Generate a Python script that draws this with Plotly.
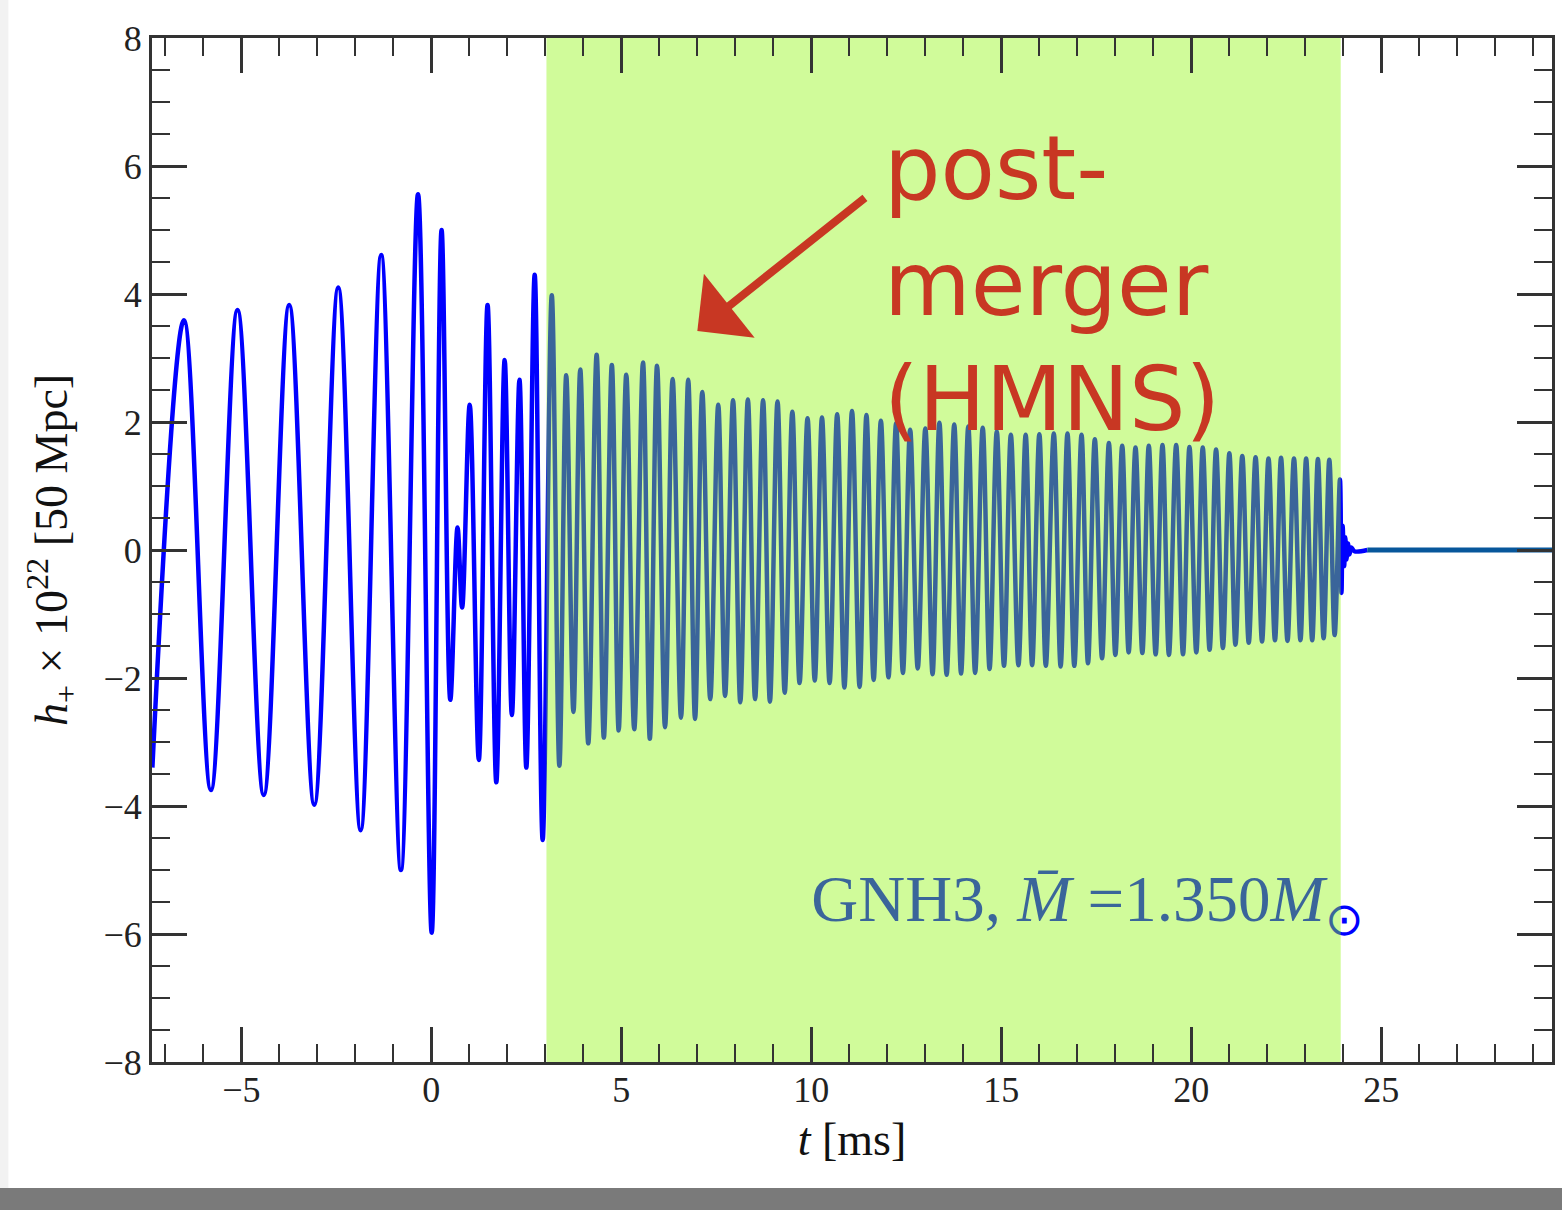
import plotly.graph_objects as go

# ---------------- data ----------------
# inspiral + merger extrema  (t in ms, h_+ x 1e22)
t_inspiral = [-7.34, -6.51, -5.80, -5.10, -4.41, -3.74, -3.08, -2.45, -1.86, -1.32,
              -0.80, -0.35, 0.01, 0.27, 0.50, 0.69, 0.81, 1.01, 1.25, 1.48,
              1.71, 1.93, 2.12, 2.32, 2.50, 2.72, 2.93]
h_inspiral = [-3.40, 3.59, -3.75, 3.75, -3.83, 3.83, -3.98, 4.10, -4.38, 4.61,
              -5.00, 5.56, -5.98, 5.00, -2.34, 0.35, -0.90, 2.27, -3.28, 3.83,
              -3.63, 2.97, -2.58, 2.66, -3.40, 4.30, -4.53]

# post-merger (HMNS) extrema
t_postmerger = [3.17, 3.37, 3.55, 3.74, 3.92, 4.13, 4.35, 4.54, 4.75, 4.93,
                5.13, 5.34, 5.57, 5.75, 5.94, 6.15, 6.35, 6.57, 6.76, 6.94,
                7.13, 7.34, 7.55, 7.73, 7.94, 8.13, 8.33, 8.52, 8.73, 8.91,
                9.11, 9.30, 9.50, 9.69, 9.90, 10.09, 10.28, 10.48, 10.68, 10.87,
                11.07, 11.27, 11.45, 11.64, 11.83, 12.03, 12.23, 12.41, 12.60, 12.80,
                13.00, 13.19, 13.37, 13.56, 13.76, 13.94, 14.13, 14.31, 14.51, 14.69,
                14.88, 15.07, 15.25, 15.45, 15.64, 15.81, 16.00, 16.17, 16.38, 16.56,
                16.74, 16.92, 17.11, 17.28, 17.46, 17.65, 17.83, 18.00, 18.18, 18.35,
                18.53, 18.71, 18.88, 19.06, 19.24, 19.41, 19.60, 19.78, 19.95, 20.13,
                20.30, 20.48, 20.65, 20.83, 21.00, 21.16, 21.34, 21.51, 21.69, 21.86,
                22.03, 22.20, 22.36, 22.53, 22.70, 22.87, 23.02, 23.18, 23.33, 23.48,
                23.63, 23.77, 23.91]
h_postmerger = [3.98, -3.37, 2.73, -2.53, 2.82, -3.02, 3.05, -2.93, 2.89, -2.82,
                2.74, -2.80, 2.93, -2.95, 2.88, -2.77, 2.67, -2.62, 2.66, -2.64,
                2.47, -2.33, 2.27, -2.28, 2.34, -2.38, 2.35, -2.33, 2.34, -2.37,
                2.32, -2.23, 2.16, -2.08, 2.06, -2.04, 2.07, -2.08, 2.12, -2.15,
                2.17, -2.14, 2.11, -2.03, 2.02, -1.99, 1.98, -1.92, 1.88, -1.85,
                1.90, -1.94, 1.99, -1.95, 1.96, -1.93, 1.93, -1.92, 1.91, -1.86,
                1.85, -1.81, 1.80, -1.80, 1.80, -1.80, 1.81, -1.81, 1.82, -1.82,
                1.82, -1.81, 1.80, -1.77, 1.73, -1.69, 1.67, -1.64, 1.63, -1.60,
                1.60, -1.61, 1.63, -1.63, 1.64, -1.64, 1.64, -1.63, 1.61, -1.60,
                1.60, -1.56, 1.57, -1.53, 1.51, -1.48, 1.47, -1.45, 1.45, -1.43,
                1.43, -1.41, 1.44, -1.42, 1.43, -1.41, 1.43, -1.41, 1.42, -1.38,
                1.41, -1.33, 1.10]

# collapse / ring-down
t_ringdown = [23.95, 23.98, 24.02, 24.05, 24.08, 24.12, 24.16, 24.21, 24.29, 24.63]
h_ringdown = [-0.67, 0.38, -0.25, 0.20, -0.15, 0.10, -0.07, 0.04, -0.02, 0.0]

# flat tail after collapse
t_tail = [24.63, 29.49]
h_tail = [0.0, 0.0]

# highlighted post-merger window
hmns_window = [3.03, 23.93]

x_range = [-7.35, 29.49]
y_range = [-8, 8]

BLUE = "rgb(0,0,255)"
RED = "rgb(200,55,35)"
AXIS = "#333333"
SERIF = "Liberation Serif"

t_wave = t_inspiral + t_postmerger + t_ringdown
h_wave = h_inspiral + h_postmerger + h_ringdown

fig = go.Figure()

fig.add_trace(go.Scatter(
    x=t_wave, y=h_wave, mode="lines",
    line=dict(color=BLUE, width=4.5, shape="spline", smoothing=1.0),
    hoverinfo="skip"))

fig.add_trace(go.Scatter(
    x=t_tail, y=h_tail, mode="lines",
    line=dict(color="#07579b", width=5),
    hoverinfo="skip"))

# label (drawn below the translucent window, like the original)
fig.add_trace(go.Scatter(
    x=[10.0], y=[-5.55], mode="text",
    text=["GNH3, <i>M\u0304</i> =1.350<i>M</i><sub>\u2299</sub>"],
    textposition="middle right",
    textfont=dict(family=SERIF, size=65, color=BLUE),
    hoverinfo="skip"))

# translucent green window over the waveform
fig.add_trace(go.Scatter(
    x=[hmns_window[0], hmns_window[1], hmns_window[1], hmns_window[0], hmns_window[0]],
    y=[y_range[0], y_range[0], y_range[1], y_range[1], y_range[0]],
    mode="lines", fill="toself",
    fillcolor="rgba(140,245,10,0.41)",
    line=dict(width=0, color="rgba(0,0,0,0)"),
    hoverinfo="skip"))

# annotation text + arrow
fig.add_annotation(
    x=11.85, y=4.16, xref="x", yref="y",
    text="post-<br>merger<br>(HMNS)", showarrow=False,
    xanchor="left", yanchor="middle", align="left",
    font=dict(family="DejaVu Sans", size=89, color=RED))

fig.add_annotation(
    x=7.0, y=3.42, xref="x", yref="y",
    ax=11.45, ay=5.52, axref="x", ayref="y",
    text="", showarrow=True, arrowhead=1, arrowsize=1.7,
    arrowwidth=8, arrowcolor=RED)

# page decorations (slide edges)
fig.add_shape(type="rect", xref="paper", yref="paper",
              x0=-0.2, x1=1.1, y0=-0.15, y1=-0.123,
              fillcolor="#7a7a7a", line=dict(width=0), layer="below")
fig.add_shape(type="rect", xref="paper", yref="paper",
              x0=-0.2, x1=-0.1026, y0=-0.123, y1=1.1,
              fillcolor="#f2f2f2", line=dict(width=0), layer="below")

fig.update_layout(
    width=1562, height=1210,
    margin=dict(l=152, r=7, t=38, b=148),
    plot_bgcolor="white", paper_bgcolor="white",
    showlegend=False,
)

fig.update_xaxes(
    range=x_range, showgrid=False, zeroline=False,
    showline=True, linecolor=AXIS, linewidth=3, mirror="ticks",
    ticks="inside", ticklen=35, tickwidth=2.5, tickcolor=AXIS,
    tick0=0, dtick=5,
    minor=dict(dtick=1, ticks="inside", ticklen=18, tickwidth=2, tickcolor=AXIS),
    tickfont=dict(family=SERIF, size=36, color="#222222"),
    ticklabelstandoff=-6,
    title=dict(text="<i>t</i> [ms]", font=dict(family=SERIF, size=46, color="#111111"),
               standoff=14),
)
fig.update_yaxes(
    range=y_range, showgrid=False, zeroline=False,
    showline=True, linecolor=AXIS, linewidth=3, mirror="ticks",
    ticks="inside", ticklen=35, tickwidth=2.5, tickcolor=AXIS,
    tick0=0, dtick=2,
    minor=dict(dtick=0.5, ticks="inside", ticklen=18, tickwidth=2, tickcolor=AXIS),
    tickfont=dict(family=SERIF, size=36, color="#222222"),
    title=dict(text="<i>h</i><sub>+</sub> \u00d7 10<sup>22</sup> [50 Mpc]",
               font=dict(family=SERIF, size=46, color="#111111"), standoff=22),
)

fig.write_html("out.html")
